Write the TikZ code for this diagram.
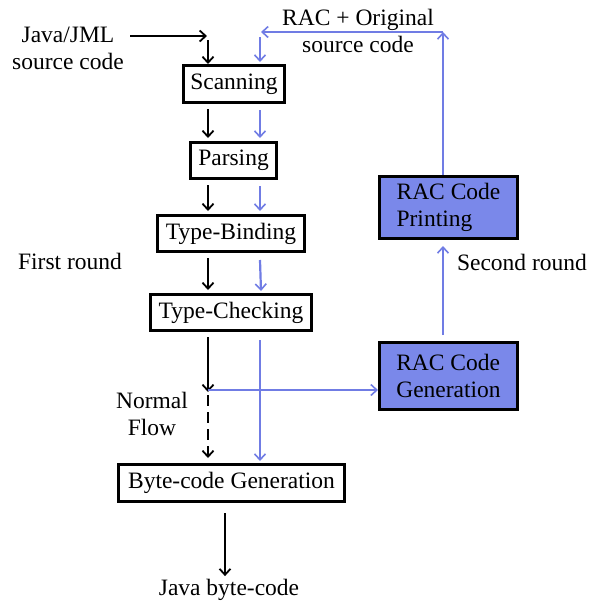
\documentclass[tikz,border=0pt]{standalone}
\usepackage{fontspec}
\setmainfont{Liberation Serif}
\usetikzlibrary{arrows.meta}
\definecolor{racblue}{RGB}{112,124,228}
\definecolor{racfill}{RGB}{122,136,234}
\begin{document}
\begin{tikzpicture}[x=1pt,y=-1pt,
  every node/.style={font=\fontsize{23.5}{27}\selectfont, inner sep=0pt},
  box/.style={draw=black, line width=3pt, fill=white, align=center},
  racbox/.style={draw=black, line width=3pt, fill=racfill, align=left},
  lbl/.style={align=center},
  blk/.style={draw=black, line width=2.6pt, -{Straight Barb[length=6pt,width=11pt,line width=1.8pt]}},
  blu/.style={draw=racblue, line width=2.2pt, -{Straight Barb[length=6pt,width=11pt,line width=1.6pt]}}
]
\useasboundingbox (0,0) rectangle (589,603);
% boxes
\node[box, minimum width=101pt, minimum height=37pt] (scan) at (234,84) {Scanning};
\node[box, minimum width=86pt, minimum height=36pt] (pars) at (233.5,160.5) {Parsing};
\node[box, minimum width=147pt, minimum height=36pt] (tb) at (231,233.5) {Type-Binding};
\node[box, minimum width=161pt, minimum height=36pt] (tc) at (231,312.5) {Type-Checking};
\node[box, minimum width=226pt, minimum height=37pt] (bcg) at (231.5,483) {Byte-code Generation};
\node[racbox, minimum width=138pt, minimum height=67pt] (racgen) at (448.5,376) {RAC Code\\Generation};
\node[racbox, minimum width=138pt, minimum height=62pt] (racprint) at (448.5,207.5) {RAC Code\\Printing};
% labels
\node[lbl] (jml) at (68,48) {Java/JML\\source code};
\node[lbl] (orig) at (358,31) {RAC + Original\\source code};
\node (first) at (70,261) {First round};
\node (second) at (522,262) {Second round};
\node[lbl] (normal) at (152,414) {Normal\\Flow};
\node (jbc) at (229,590) {Java byte-code};
% helper coordinates
\coordinate (jmlend) at (207,36);
\coordinate (jmlstart) at (130,36);
\coordinate (btop) at (208,40);
\coordinate (corner) at (443,32);
\coordinate (bluend) at (261,32);
\coordinate (bluetop) at (260,37);
\coordinate (split) at (208,390);
\coordinate (dashtop) at (208,395);
% black flow
\draw[blk] (jmlstart) -- (jmlend);
\draw[blk] (btop) -- (scan.north -| btop);
\draw[blk] ([yshift=-5pt]scan.south -| btop) -- ([yshift=3pt]pars.north -| btop);
\draw[blk] ([yshift=-5pt]pars.south -| btop) -- ([yshift=3pt]tb.north -| btop);
\draw[blk] ([yshift=-5pt]tb.south -| btop) -- ([yshift=3pt]tc.north -| btop);
\draw[blk] ([yshift=-5pt]tc.south -| btop) -- ([yshift=-2pt]split);
\draw[blk, dashed, dash pattern=on 11pt off 6pt] (dashtop) -- ([yshift=5pt]bcg.north -| btop);
\draw[blk] ([yshift=-10pt]bcg.south -| 225,0) -- ([yshift=3pt]jbc.north -| 225,0);
% blue flow
\draw[blu] (racprint.north -| corner) -- (corner);
\draw[blu] (corner) -- (bluend);
\draw[blu] (bluetop) -- ([yshift=2pt]scan.north -| bluetop);
\draw[blu] ([yshift=-6pt]scan.south -| bluetop) -- ([yshift=3pt]pars.north -| bluetop);
\draw[blu] ([yshift=-6pt]pars.south -| bluetop) -- ([yshift=3pt]tb.north -| bluetop);
\draw[blu] ([yshift=-7pt]tb.south -| bluetop) -- ([yshift=2pt]tc.north -| 261,0);
\draw[blu] ([yshift=-8pt]tc.south -| bluetop) -- ([yshift=2pt]bcg.north -| bluetop);
\draw[blu] (split) -- (racgen.west |- split);
\draw[blu] ([yshift=6pt]racgen.north -| corner) -- ([yshift=-6pt]racprint.south -| corner);
\end{tikzpicture}
\end{document}
